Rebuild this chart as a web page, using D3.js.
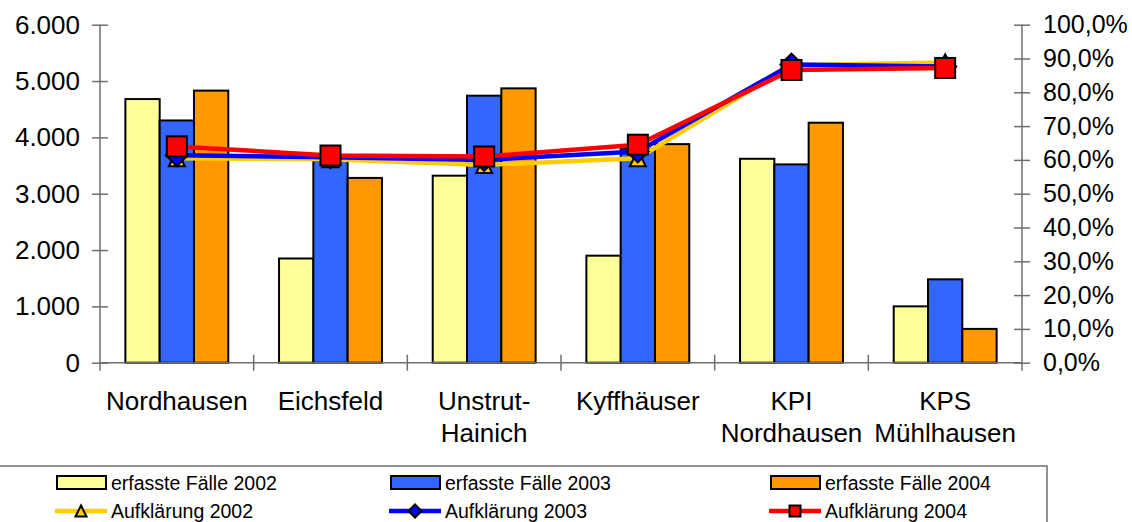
<!DOCTYPE html>
<html>
<head>
<meta charset="utf-8">
<script src="https://cdn.jsdelivr.net/npm/d3@7"></script>
<style>
  body { margin: 0; background: #fff; }
  text { font-family: "Liberation Sans", Arial, sans-serif; fill: #000; }
</style>
</head>
<body>
<div id="chart"></div>
<script>
// data
const categories = ["Nordhausen", "Eichsfeld", "Unstrut-Hainich", "Kyffhäuser", "KPI Nordhausen", "KPS Mühlhausen"];
const faelle2002 = [4680, 1850, 3320, 1900, 3620, 1000];
const faelle2003 = [4300, 3590, 4740, 3800, 3520, 1480];
const faelle2004 = [4830, 3280, 4870, 3880, 4260, 600];
const aufkl2002 = [0.605, 0.602, 0.585, 0.605, 0.880, 0.888];
const aufkl2003 = [0.614, 0.608, 0.600, 0.625, 0.882, 0.876];
const aufkl2004 = [0.640, 0.613, 0.610, 0.645, 0.866, 0.872];
const leftTicks = [0, 1000, 2000, 3000, 4000, 5000, 6000];
const rightTicks = [0, 0.1, 0.2, 0.3, 0.4, 0.5, 0.6, 0.7, 0.8, 0.9, 1.0];

const barSeries = [
  { name: "erfasste Fälle 2002", values: faelle2002, color: "#FFFF99" },
  { name: "erfasste Fälle 2003", values: faelle2003, color: "#3366FF" },
  { name: "erfasste Fälle 2004", values: faelle2004, color: "#FF9900" }
];
const lineSeries = [
  { name: "Aufklärung 2002", values: aufkl2002, color: "#FFCC00", marker: "triangle" },
  { name: "Aufklärung 2003", values: aufkl2003, color: "#0000FF", marker: "diamond" },
  { name: "Aufklärung 2004", values: aufkl2004, color: "#FF0000", marker: "square" }
];

const width = 1132, height = 522;
const plot = { left: 100, right: 1022, top: 24.7, bottom: 362.7 };

const de = d3.formatLocale({ decimal: ",", thousands: ".", grouping: [3], currency: ["", " €"] });
const fmtNum = de.format(",d");
const fmtPct = de.format(".1%");

const svg = d3.select("#chart").append("svg")
  .attr("width", width).attr("height", height);

const x0 = d3.scaleBand().domain(categories).range([plot.left, plot.right]).padding(0);
const x1 = d3.scaleBand().domain(barSeries.map(s => s.name))
  .range([0, x0.bandwidth()]).paddingInner(0).paddingOuter(0.74);
const y = d3.scaleLinear().domain([0, 6000]).range([plot.bottom, plot.top]);
const y2 = d3.scaleLinear().domain([0, 1]).range([plot.bottom, plot.top]);

// bars
barSeries.forEach(s => {
  svg.append("g").selectAll("rect")
    .data(s.values)
    .enter()
    .append("rect")
    .attr("x", (d, i) => x0(categories[i]) + x1(s.name))
    .attr("y", d => y(d))
    .attr("width", x1.bandwidth())
    .attr("height", d => y(0) - y(d))
    .attr("fill", s.color)
    .attr("stroke", "#000")
    .attr("stroke-width", 2);
});

// axes
const axisColor = "#6e6e6e";
const gl = svg.append("g").attr("transform", `translate(${plot.left},0)`)
  .call(d3.axisLeft(y).tickValues(leftTicks).tickFormat(fmtNum).tickSizeInner(8).tickSizeOuter(0).tickPadding(12));
const gr = svg.append("g").attr("transform", `translate(${plot.right},0)`)
  .call(d3.axisRight(y2).tickValues(rightTicks).tickFormat(fmtPct).tickSizeInner(8).tickSizeOuter(0).tickPadding(13));
[gl, gr].forEach(g => {
  g.select(".domain").attr("stroke", axisColor).attr("stroke-width", 1.5)
    .attr("d", `M0,${plot.top}V${plot.bottom + 8}`);
  g.selectAll(".tick line").attr("x1", -8).attr("x2", 8).attr("stroke", axisColor).attr("stroke-width", 1.5);
  g.selectAll(".tick text").attr("font-family", "Liberation Sans, Arial, sans-serif").attr("fill", "#000");
});
gl.selectAll(".tick text").attr("font-size", 26);
gr.selectAll(".tick text").attr("font-size", 25);

// x axis
svg.append("line")
  .attr("x1", plot.left).attr("x2", plot.right)
  .attr("y1", y(0)).attr("y2", y(0))
  .attr("stroke", axisColor).attr("stroke-width", 1.5);
const bounds = categories.map(c => x0(c)).concat([plot.right]);
svg.append("g").selectAll("line")
  .data(bounds.slice(1, -1))
  .enter().append("line")
  .attr("x1", d => d).attr("x2", d => d)
  .attr("y1", y(0) - 8).attr("y2", y(0) + 8)
  .attr("stroke", axisColor).attr("stroke-width", 1.5);

categories.forEach(c => {
  let lines;
  if (c.includes("-")) lines = [c.slice(0, c.indexOf("-") + 1), c.slice(c.indexOf("-") + 1)];
  else lines = c.split(" ");
  const t = svg.append("text")
    .attr("x", x0(c) + x0.bandwidth() / 2)
    .attr("y", 410)
    .attr("text-anchor", "middle")
    .attr("font-size", 26);
  lines.forEach((l, k) => {
    t.append("tspan").attr("x", x0(c) + x0.bandwidth() / 2).attr("dy", k === 0 ? 0 : 32).text(l);
  });
});

// lines + markers
const cx = i => x0(categories[i]) + x0.bandwidth() / 2;
const line = d3.line().x((d, i) => cx(i)).y(d => y2(d));

function drawMarker(g, type, px, py, size, color) {
  if (type === "square") {
    g.append("rect").attr("x", px - size / 2).attr("y", py - size / 2)
      .attr("width", size).attr("height", size)
      .attr("fill", color).attr("stroke", "#000").attr("stroke-width", 2);
  } else if (type === "diamond") {
    const h = size / 2 + 1;
    g.append("path").attr("d", `M${px},${py - h}L${px + h},${py}L${px},${py + h}L${px - h},${py}Z`)
      .attr("fill", color).attr("stroke", "#000").attr("stroke-width", 2);
  } else {
    const h = size / 2;
    g.append("path").attr("d", `M${px},${py - h}L${px + h},${py + h}L${px - h},${py + h}Z`)
      .attr("fill", color).attr("stroke", "#000").attr("stroke-width", 2);
  }
}

lineSeries.forEach(s => {
  const g = svg.append("g");
  g.append("path").datum(s.values)
    .attr("d", line)
    .attr("fill", "none")
    .attr("stroke", s.color)
    .attr("stroke-width", 4.5);
  s.values.forEach((v, i) => drawMarker(g, s.marker, cx(i), y2(v), s.marker === "triangle" ? 16 : 20, s.color));
});

// legend
svg.append("rect")
  .attr("x", -1).attr("y", 466)
  .attr("width", 1048).attr("height", 100)
  .attr("fill", "none").attr("stroke", axisColor).attr("stroke-width", 1.5);

const legendCols = [57, 391, 771];
barSeries.forEach((s, i) => {
  const lx = legendCols[i];
  svg.append("rect").attr("x", lx).attr("y", 476).attr("width", 49).attr("height", 13)
    .attr("fill", s.color).attr("stroke", "#000").attr("stroke-width", 2);
  svg.append("text").attr("x", lx + 54).attr("y", 489.5).attr("font-size", 19.5).text(s.name);
});
lineSeries.forEach((s, i) => {
  const lx = legendCols[i];
  svg.append("line").attr("x1", lx - 2).attr("x2", lx + 50).attr("y1", 511).attr("y2", 511)
    .attr("stroke", s.color).attr("stroke-width", 4.5);
  drawMarker(svg, s.marker, lx + 24, 511, 11, s.color);
  svg.append("text").attr("x", lx + 54).attr("y", 518).attr("font-size", 19.5).text(s.name);
});
</script>
</body>
</html>
